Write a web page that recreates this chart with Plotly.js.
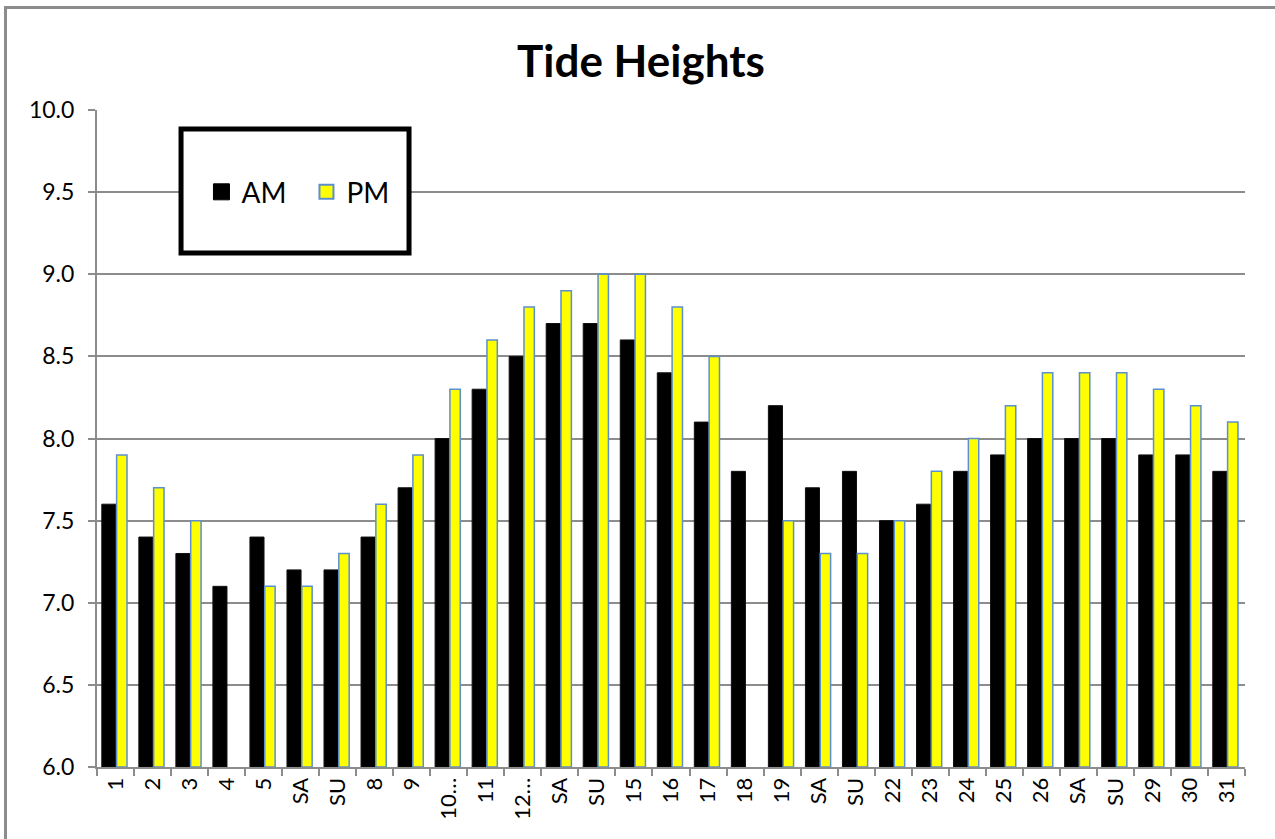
<!DOCTYPE html>
<html>
<head>
<meta charset="utf-8">
<script src="https://cdn.plot.ly/plotly-3.0.1.min.js"></script>
<style>
html,body{margin:0;padding:0;background:#fff;overflow:hidden;}
#chart{position:absolute;left:4px;top:6px;width:1268px;height:830px;border-left:3px solid #8c8c8c;border-top:3px solid #8c8c8c;}
</style>
</head>
<body>
<div id="chart"></div>
<script>
const categories = ["1","2","3","4","5","SA","SU","8","9","10…","11","12…","SA","SU","15","16","17","18","19","SA","SU","22","23","24","25","26","SA","SU","29","30","31"];
const amValues = [7.6,7.4,7.3,7.1,7.4,7.2,7.2,7.4,7.7,8.0,8.3,8.5,8.7,8.7,8.6,8.4,8.1,7.8,8.2,7.7,7.8,7.5,7.6,7.8,7.9,8.0,8.0,8.0,7.9,7.9,7.8];
const pmValues = [7.9,7.7,7.5,null,7.1,7.1,7.3,7.6,7.9,8.3,8.6,8.8,8.9,9.0,9.0,8.8,8.5,null,7.5,7.3,7.3,7.5,7.8,8.0,8.2,8.4,8.4,8.4,8.3,8.2,8.1];
const yTicks = [6.0,6.5,7.0,7.5,8.0,8.5,9.0,9.5,10.0];

const keys = categories.map((c,i)=>'d'+(i+1));
const font = "Lato, 'Open Sans', sans-serif";

const traces = [
  {type:'bar', name:'AM', x:keys, y:amValues.map(v=>v===null?null:v-6), base:6,
   marker:{color:'#000000', line:{color:'#111111', width:1}},
   width:0.38, offset:-0.37, hoverinfo:'skip', showlegend:false},
  {type:'bar', name:'PM', x:keys, y:pmValues.map(v=>v===null?null:v-6), base:6,
   marker:{color:'#ffff00', line:{color:'#5b8fcf', width:1.5}},
   width:0.28, offset:0.03, hoverinfo:'skip', showlegend:false},
  {type:'scatter', mode:'markers', name:'AM', x:[null], y:[null],
   marker:{symbol:'square', size:16, color:'#000', line:{color:'#000', width:1}}, showlegend:true},
  {type:'scatter', mode:'markers', name:'PM', x:[null], y:[null],
   marker:{symbol:'square', size:14, color:'#ffff00', line:{color:'#5b8fcf', width:2}}, showlegend:true}
];

const layout = {
  width:1268, height:830,
  margin:{l:90, r:30, t:101, b:72},
  paper_bgcolor:'#ffffff', plot_bgcolor:'#ffffff',
  font:{family:font, color:'#000'},
  title:{text:'<b>Tide Heights</b>', font:{family:font, size:44, color:'#000'},
         x:0.5, xref:'container', y:1-53/830, yref:'container', yanchor:'middle'},
  barmode:'overlay',
  showlegend:true,
  legend:{orientation:'h', x:0.091, xanchor:'left', y:0.875, yanchor:'middle',
          bgcolor:'rgba(0,0,0,0)', borderwidth:0, font:{family:font, size:28, color:'#000'},
          itemwidth:30, entrywidth:60, entrywidthmode:'pixels'},
  xaxis:{type:'category', tickson:'boundaries', ticks:'outside', ticklen:7, tickcolor:'#8c8c8c', tickwidth:2,
         tickvals:keys, ticktext:categories,
         showgrid:false, showline:true, linecolor:'#8c8c8c', linewidth:2,
         tickangle:-90, tickfont:{family:font, size:22, color:'#000'}, automargin:false},
  yaxis:{range:[6,10], tickvals:yTicks, ticktext:yTicks.map(v=>v.toFixed(1)),
         showgrid:true, gridcolor:'#8c8c8c', gridwidth:2, showline:true, linecolor:'#8c8c8c', linewidth:2,
         ticks:'outside', ticklen:7, tickcolor:'#8c8c8c', tickwidth:2, ticklabelstandoff:9,
         tickfont:{family:font, size:23, color:'#000'}, zeroline:false, automargin:false},
  shapes:[{type:'rect', xref:'paper', yref:'paper', x0:0.0732, x1:0.2718, y0:0.7823, y1:0.971,
           line:{color:'#000', width:5}, fillcolor:'#ffffff', layer:'above'}]
};

Plotly.newPlot('chart', traces, layout, {displayModeBar:false, staticPlot:true});
</script>
</body>
</html>
